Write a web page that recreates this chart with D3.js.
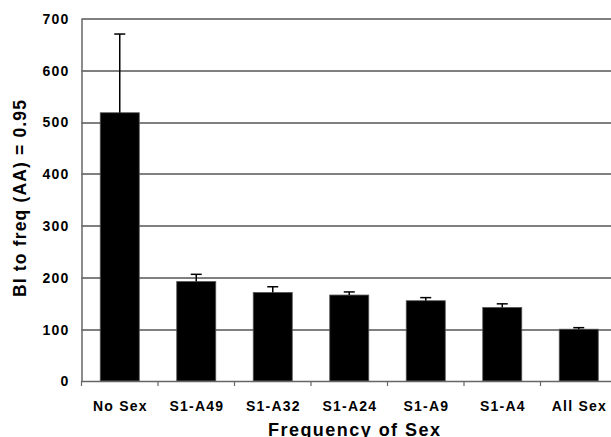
<!DOCTYPE html>
<html>
<head>
<meta charset="utf-8">
<script src="https://cdn.jsdelivr.net/npm/d3@7"></script>
<style>
  html, body { margin: 0; padding: 0; background: #fff; }
  svg { display: block; }
  text { font-family: "Liberation Sans", Arial, sans-serif; font-weight: bold; fill: #000; }
</style>
</head>
<body>
<svg id="chart" width="611" height="437"></svg>
<script>
// Treatments ordered from no sex to obligate sex
const categories = ["No Sex", "S1-A49", "S1-A32", "S1-A24", "S1-A9", "S1-A4", "All Sex"];
// Mean generations to reach freq(AA) = 0.95
const means = [518, 192, 171, 166, 155, 142, 100];
// Upper error (standard error) above each mean
const errors = [152, 14, 11, 6, 6, 7, 3];
const yTicks = [0, 100, 200, 300, 400, 500, 600, 700];

const svg = d3.select("#chart");
const margin = { left: 81.5, top: 18.5, right: -6, bottom: 56 };
const width = 611 - margin.left - margin.right;
const height = 437 - margin.top - margin.bottom;

const g = svg.append("g").attr("transform", `translate(${margin.left},${margin.top})`);

const x = d3.scaleBand().domain(categories).range([0, width]).paddingInner(0.49).paddingOuter(0.245);
const y = d3.scaleLinear().domain([0, 700]).range([height, 0]);

// Horizontal gridlines
g.append("g")
  .selectAll("line")
  .data(yTicks.filter(d => d > 0))
  .join("line")
  .attr("x1", 0).attr("x2", width)
  .attr("y1", d => Math.round(y(d)) + 0.5).attr("y2", d => Math.round(y(d)) + 0.5)
  .attr("stroke", "#000").attr("stroke-width", 1);

// Bars
g.append("g")
  .selectAll("rect")
  .data(categories)
  .join("rect")
  .attr("x", d => x(d))
  .attr("width", x.bandwidth())
  .attr("y", (d, i) => y(means[i]))
  .attr("height", (d, i) => y(0) - y(means[i]))
  .attr("fill", "#000")
  .attr("stroke", "#555")
  .attr("stroke-width", 0.8);

// Error bars (upper only)
const eb = g.append("g").attr("stroke", "#000").attr("stroke-width", 1.5);
categories.forEach((c, i) => {
  const cx = x(c) + x.bandwidth() / 2;
  eb.append("line")
    .attr("x1", cx).attr("x2", cx)
    .attr("y1", y(means[i])).attr("y2", y(means[i] + errors[i]));
  eb.append("line")
    .attr("x1", cx - 5.5).attr("x2", cx + 5.5)
    .attr("y1", y(means[i] + errors[i])).attr("y2", y(means[i] + errors[i]));
});

// Y axis
const yAxis = g.append("g")
  .call(d3.axisLeft(y).tickValues(yTicks).tickSize(0).tickPadding(12));
yAxis.select(".domain").attr("stroke", "#666").attr("stroke-width", 1.5);
yAxis.selectAll("text")
  .attr("font-size", 14)
  .attr("dy", "0.35em")
  .style("letter-spacing", "1.2px")
  .style("font-family", "'Liberation Sans', Arial, sans-serif")
  .style("font-weight", "bold");

// X axis with tick marks at category boundaries
const step = x.step();
const gap = x.paddingInner() * step;
const xAxisG = g.append("g").attr("transform", `translate(0,${height})`);
xAxisG.append("line")
  .attr("x1", 0).attr("x2", width)
  .attr("y1", 0.5).attr("y2", 0.5)
  .attr("stroke", "#666").attr("stroke-width", 1.5);
xAxisG.selectAll(".bt")
  .data(categories.slice(1))
  .join("line")
  .attr("class", "bt")
  .attr("x1", d => x(d) - gap / 2)
  .attr("x2", d => x(d) - gap / 2)
  .attr("y1", 0).attr("y2", 5)
  .attr("stroke", "#666").attr("stroke-width", 1.2);
xAxisG.append("line")
  .attr("x1", 0).attr("x2", 0).attr("y1", 0).attr("y2", 5)
  .attr("stroke", "#666").attr("stroke-width", 1.2);
xAxisG.selectAll(".lbl")
  .data(categories)
  .join("text")
  .attr("class", "lbl")
  .attr("x", d => x(d) + x.bandwidth() / 2 + 0.6)
  .attr("y", 30)
  .attr("text-anchor", "middle")
  .attr("font-size", 14)
  .style("letter-spacing", "1.2px")
  .text(d => d);

// Axis titles
svg.append("text")
  .attr("x", 354)
  .attr("y", 436)
  .attr("text-anchor", "middle")
  .attr("font-size", 18)
  .attr("textLength", 172)
  .attr("lengthAdjust", "spacing")
  .text("Frequency of Sex");

svg.append("text")
  .attr("transform", "translate(25.5,198.5) rotate(-90)")
  .attr("text-anchor", "middle")
  .attr("font-size", 17.5)
  .attr("textLength", 197)
  .attr("lengthAdjust", "spacing")
  .text("BI to freq (AA) = 0.95");
</script>
</body>
</html>
